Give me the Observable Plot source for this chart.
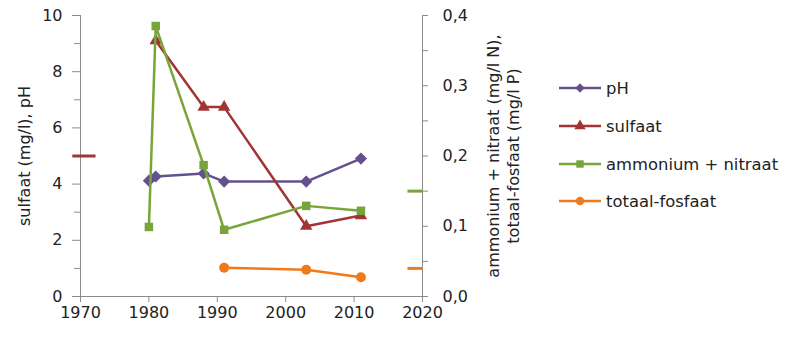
<!DOCTYPE html>
<html>
<head>
<meta charset="utf-8">
<script src="https://cdn.jsdelivr.net/npm/d3@7"></script>
<script src="https://cdn.jsdelivr.net/npm/@observablehq/plot@0.6"></script>
<style>
  html, body { margin: 0; padding: 0; background: #fff; }
  #wrap { position: relative; width: 785px; height: 338px; font-family: "DejaVu Sans", sans-serif; }
  .leg { position: absolute; left: 559px; display: flex; align-items: center; font-size: 16.4px; color: #222; white-space: nowrap; }
  .leg svg { margin-right: 5px; }
</style>
</head>
<body>
<div id="wrap"></div>
<script>
// ---- data ----
const phYears = [1980, 1981, 1988, 1991, 2003, 2011];
const phValues = [4.12, 4.27, 4.38, 4.09, 4.09, 4.91];

const sulfaatYears = [1981, 1988, 1991, 2003, 2011];
const sulfaatValues = [9.1, 6.74, 6.74, 2.50, 2.88];

const anYears = [1980, 1981, 1988, 1991, 2003, 2011];
const anValues = [0.099, 0.385, 0.187, 0.095, 0.129, 0.122];

const fosfaatYears = [1991, 2003, 2011];
const fosfaatValues = [0.041, 0.038, 0.0275];

// norm markers (short dashes at the chart edges)
const normSeries = ["sulfaat", "ammonium + nitraat", "totaal-fosfaat"];
const normValues = [5, 0.15, 0.04];
const normAxis = ["left", "right", "right"];
const normFrom = [1968.8, 2017.8, 2017.8];
const normTo = [1972.2, 2020, 2020];

const seriesNames = ["pH", "sulfaat", "ammonium + nitraat", "totaal-fosfaat"];
const seriesColors = ["#65508f", "#a23434", "#78a53a", "#ee7a1c"];
const seriesSymbols = ["diamond2", "triangle", "square", "circle"];

const leftTicks = [0, 2, 4, 6, 8, 10];
const rightTicks = [0, 0.1, 0.2, 0.3, 0.4];
const xTicks = [1970, 1980, 1990, 2000, 2010, 2020];

const ratio = 25; // right axis (0-0.4) mapped onto left (0-10)

const mk = (years, vals, s) => years.map((y, i) => ({year: y, v: vals[i], s}));
const ph = mk(phYears, phValues, "pH");
const sulf = mk(sulfaatYears, sulfaatValues, "sulfaat");
const an = mk(anYears, anValues.map(v => v * ratio), "ammonium + nitraat");
const fos = mk(fosfaatYears, fosfaatValues.map(v => v * ratio), "totaal-fosfaat");
const norms = normSeries.map((s, i) => ({
  s, x1: normFrom[i], x2: normTo[i],
  y: normAxis[i] === "right" ? normValues[i] * ratio : normValues[i]
}));

const colorOf = s => seriesColors[seriesNames.indexOf(s)];
const axisColor = "#8a8a8a";
const fmtR = d => (d / ratio).toFixed(1).replace(".", ",");

function series(data, i, r) {
  return [
    Plot.line(data, {x: "year", y: "v", stroke: seriesColors[i], strokeWidth: 2.5}),
    Plot.dot(data, {x: "year", y: "v", fill: seriesColors[i], stroke: "none", symbol: seriesSymbols[i], r})
  ];
}

const chart = Plot.plot({
  width: 785,
  height: 338,
  marginLeft: 80,
  marginRight: 363,
  marginTop: 15,
  marginBottom: 42,
  style: {fontFamily: "DejaVu Sans", fontSize: "16px", color: "#222", background: "transparent", overflow: "visible"},
  x: {domain: [1970, 2020]},
  y: {domain: [0, 10]},
  marks: [
    // axis lines
    Plot.ruleY([0], {stroke: axisColor}),
    Plot.ruleX([1970], {stroke: axisColor}),
    Plot.ruleX([2020], {stroke: axisColor}),
    // left axis
    Plot.axisY({ticks: leftTicks, tickSize: 8, tickPadding: 10, stroke: axisColor, label: null, tickFormat: d => d, fontSize: 16}),
    Plot.axisY({ticks: d3.range(1, 10, 2), tickSize: 6, text: null, stroke: axisColor, label: null}),
    // right axis
    Plot.axisY({anchor: "right", ticks: rightTicks.map(d => d * ratio), tickSize: 5, tickPadding: 15, stroke: axisColor, tickFormat: fmtR, label: null, fontSize: 16}),
    Plot.axisY({anchor: "right", ticks: d3.range(1.25, 10, 2.5), tickSize: 5, text: null, stroke: axisColor, label: null}),
    // x axis
    Plot.axisX({ticks: xTicks, tickSize: 6, tickPadding: 4, stroke: axisColor, tickFormat: d => String(d), label: null, fontSize: 16}),
    // axis titles
    Plot.text(["sulfaat (mg/l), pH"], {frameAnchor: "left", dx: -56, rotate: -90, textAnchor: "middle", lineAnchor: "middle", fontSize: 16, fill: "#222"}),
    Plot.text(["ammonium + nitraat (mg/l N),"], {frameAnchor: "right", dx: 71, rotate: -90, textAnchor: "middle", lineAnchor: "middle", fontSize: 16, fill: "#222"}),
    Plot.text(["totaal-fosfaat (mg/l P)"], {frameAnchor: "right", dx: 91, rotate: -90, textAnchor: "middle", lineAnchor: "middle", fontSize: 16, fill: "#222"}),
    // norm dashes
    Plot.link(norms, {x1: "x1", x2: "x2", y1: "y", y2: "y", stroke: d => colorOf(d.s), strokeWidth: 3}),
    // series
    ...series(ph, 0, 5.5),
    ...series(sulf, 1, 4.6),
    ...series(an, 2, 4.8),
    ...series(fos, 3, 5)
  ]
});

const wrap = document.getElementById("wrap");
wrap.appendChild(chart);

// legend
const legendTops = [88, 126, 164, 201];
seriesNames.forEach((name, i) => {
  const row = document.createElement("div");
  row.className = "leg";
  row.style.top = (legendTops[i] - 11) + "px";
  const sym = d3.symbol(d3["symbol" + ({diamond2: "Diamond2", triangle: "Triangle", square: "Square", circle: "Circle"})[seriesSymbols[i]]], Math.PI * 5 * 5 * 0.7)();
  row.innerHTML = `<svg width="42" height="22"><line x1="0" x2="42" y1="11" y2="11" stroke="${seriesColors[i]}" stroke-width="2.6"/><path d="${sym}" transform="translate(21,11)" fill="${seriesColors[i]}"/></svg><span>${name}</span>`;
  wrap.appendChild(row);
});
</script>
</body>
</html>
